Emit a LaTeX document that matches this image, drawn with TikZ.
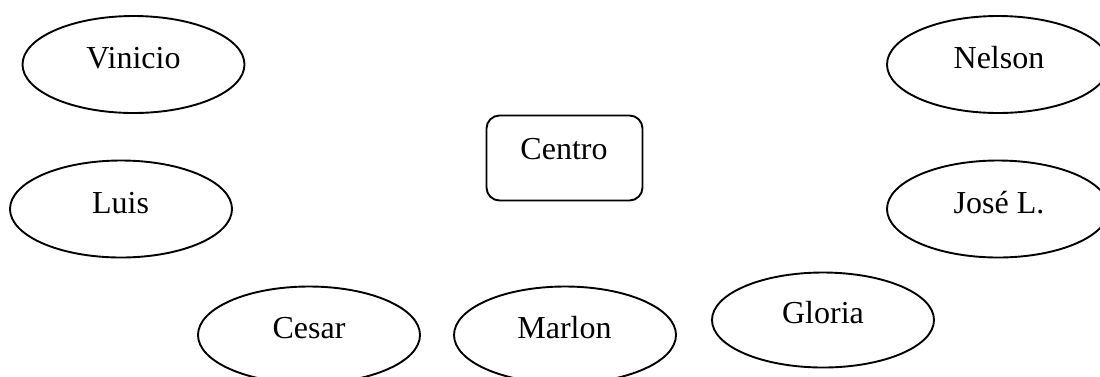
\documentclass[tikz,border=0pt]{standalone}
\usepackage{fontspec}
\setmainfont{Liberation Serif}
\usetikzlibrary{shapes.geometric}
\tikzset{
  person/.style={ellipse, draw=black, line width=1.9pt, inner sep=0pt,
    minimum width=222pt, minimum height=97pt},
  hub/.style={rectangle, rounded corners=13pt, draw=black, line width=1.9pt,
    inner sep=0pt, minimum width=156pt, minimum height=85pt},
  lbl/.style={anchor=base, inner sep=0pt, font=\fontsize{32}{38}\selectfont}
}
\begin{document}
\begin{tikzpicture}[x=1pt, y=-1pt]
  \useasboundingbox (0,0) rectangle (1100,376);

  % shapes
  \node[person] (vin) at (133.5,64.5) {};
  \node[person] (lui) at (121,209) {};
  \node[person] (nel) at (998,64.5) {};
  \node[person] (jos) at (998,209) {};
  \node[hub]    (cen) at (564.5,158) {};
  \node[person] (ces) at (309,335) {};
  \node[person] (mar) at (565,335) {};
  \node[person, minimum height=95pt] (glo) at (823,320) {};

  % labels, set on their baselines
  \node[lbl] (tvin) at (133.5,68) {Vinicio};
  \node[lbl] (tlui) at (120.5,213) {Luis};
  \node[lbl] (tnel) at (999,68) {Nelson};
  \node[lbl] (tjos) at (999,213) {José L.};
  \node[lbl] (tcen) at (564,159) {Centro};
  \node[lbl] (tces) at (309,338) {Cesar};
  \node[lbl] (tmar) at (564.5,338) {Marlon};
  \node[lbl] (tglo) at (823,323) {Gloria};
\end{tikzpicture}
\end{document}
